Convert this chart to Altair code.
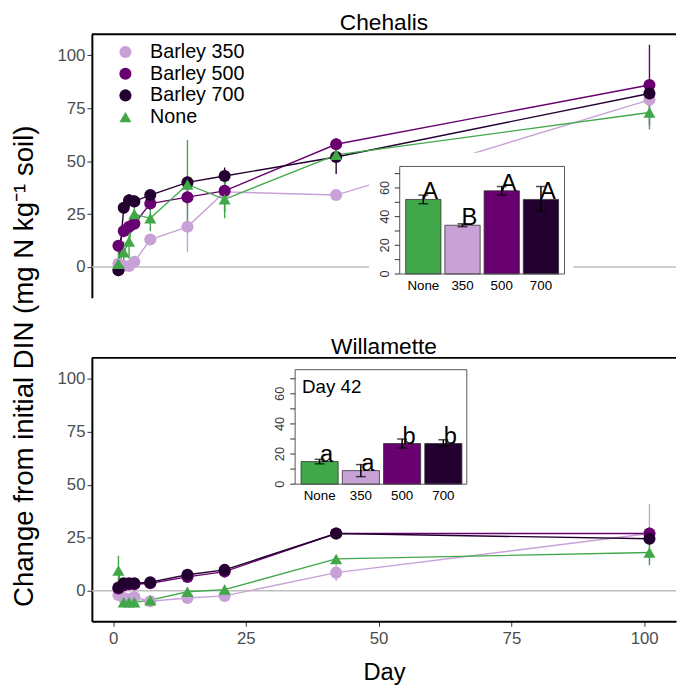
import altair as alt
import pandas as pd

# ---------------- data ----------------
days = [1, 2, 3, 4, 7, 14, 21, 42, 101]
treatments = ["Barley 350", "Barley 500", "Barley 700", "None"]
colors = ["#C8A2D6", "#680070", "#230030", "#41A84A"]
shapes = ["circle", "circle", "circle", "triangle-up"]
point_sizes = [150, 150, 150, 260]

# Chehalis (mean, half-width of error bar)
ch_350 = [1.5, 0.5, 0.5, 2.5, 13, 19, 35.5, 34, 79]
ch_350_err = [1, 1, 1, 1.5, 2, 12, 3, 1, 3]
ch_500 = [10, 17, 19, 20.5, 30, 33, 36, 58, 86]
ch_500_err = [2, 3, 3, 3, 3, 4, 10, 3, 19]
ch_700 = [-1.5, 28, 31.5, 31, 34, 40, 43, 52, 82]
ch_700_err = [2, 3, 3, 3, 2, 3, 4, 8, 4]
ch_none = [1.5, 7, 12, 25, 23, 39, 32, 53, 73]
ch_none_err = [6, 5, 8, 6, 6, 21, 9, 3, 8]

# Willamette
wi_350 = [-2, -3.5, -4, -3, -5, -3.5, -2.5, 8.5, 27]
wi_350_err = [1, 1, 1, 1, 1, 2, 2, 4, 14]
wi_500 = [1, 2.5, 3, 3, 3.5, 6.5, 9, 27, 27]
wi_500_err = [1, 1, 1, 1, 1, 1.5, 1.5, 2, 3]
wi_700 = [1.5, 3.5, 3.5, 3.5, 4, 7.5, 9.8, 27, 24.5]
wi_700_err = [1, 1, 1, 1, 1, 1.5, 1.5, 2, 2]
wi_none = [9.5, -5.5, -5.5, -5.5, -4.5, -0.5, 0.5, 15, 18]
wi_none_err = [7, 2, 2, 2, 2, 2, 2, 1.5, 6]

# insets (day 42)
inset_labels = ["None", "350", "500", "700"]
inset_treat = ["None", "Barley 350", "Barley 500", "Barley 700"]
inset_ticks = [0, 10, 20, 30, 40, 50, 60, 70]
inset_tick_labels = [0, 20, 40, 60]
ch_bar = [52, 34, 58, 52]
ch_bar_lo = [49, 33, 55, 44]
ch_bar_hi = [55, 35, 61, 61]
ch_letters = ["A", "B", "A", "A"]
wi_bar = [15, 9, 27, 27]
wi_bar_lo = [13.5, 5, 24, 25]
wi_bar_hi = [16.5, 13, 30, 29.5]
wi_letters = ["a", "a", "b", "b"]

# ---------------- frames ----------------
def series_df(vals):
    rows = []
    for t, (m, e) in zip(treatments, vals):
        for d, v, er in zip(days, m, e):
            rows.append({"treat": t, "day": d, "value": v, "lo": v - er, "hi": v + er})
    return pd.DataFrame(rows)

ch_df = series_df([(ch_350, ch_350_err), (ch_500, ch_500_err), (ch_700, ch_700_err), (ch_none, ch_none_err)])
wi_df = series_df([(wi_350, wi_350_err), (wi_500, wi_500_err), (wi_700, wi_700_err), (wi_none, wi_none_err)])

def inset_df(means, lo, hi, letters):
    return pd.DataFrame({"label": inset_labels, "treat": inset_treat, "mean": means,
                         "lo": lo, "hi": hi, "letter": letters})

ch_in = inset_df(ch_bar, ch_bar_lo, ch_bar_hi, ch_letters)
wi_in = inset_df(wi_bar, wi_bar_lo, wi_bar_hi, wi_letters)
ticks_df = pd.DataFrame({"v": inset_ticks})
tlab_df = pd.DataFrame({"v": inset_tick_labels})

# ---------------- layout constants ----------------
W, H = 592, 267
XDOM = [-4, 106]
YDOM = [-14.5, 110]
FONT = "Liberation Sans"
one = pd.DataFrame({"k": [0]})

TOP_INSET = dict(fx=(312, 479), fy=(134, 243), bx=(318, 473), ymax=75, bgx=(281, 488), bgy=(120, 265), day=False)
BOT_INSET = dict(fx=(206, 380), fy=(12, 128), bx=(212, 375), ymax=76, bgx=(180, 392), bgy=(4, 150), day=True)

color_scale = alt.Scale(domain=treatments, range=colors)
shape_scale = alt.Scale(domain=treatments, range=shapes)


def panel(df, ins, geo, top):
    xs = alt.Scale(domain=XDOM, nice=False, zero=False)
    ys = alt.Scale(domain=YDOM, nice=False, zero=False)
    if top:
        xaxis = None
        yaxis = alt.Axis(values=[0, 25, 50, 75, 100], grid=False, tickSize=5, labelFontSize=17,
                         title="Change from initial DIN (mg N kg\u207B\u00B9 soil)", titleFontSize=28,
                         titleFontWeight="normal", titleX=-68, titleY=336, titleAngle=270,
                         titleAlign="center", titleBaseline="middle", domainWidth=2, domainColor="black")
        leg = alt.Legend(orient="none", legendX=24, legendY=8, title=None, labelFontSize=20,
                         symbolSize=230, rowPadding=2, labelOffset=15, padding=0,
                         symbolStrokeWidth=0, labelColor="black")
    else:
        xaxis = alt.Axis(values=[0, 25, 50, 75, 100], grid=False, tickSize=5, labelFontSize=17,
                         title="Day", titleFontSize=24, titleFontWeight="normal", titlePadding=15,
                         domainWidth=2, domainColor="black", labelPadding=4)
        yaxis = alt.Axis(values=[0, 25, 50, 75, 100], grid=False, tickSize=5, labelFontSize=17,
                         title=None, domainWidth=2, domainColor="black")
        leg = None

    X = alt.X("day:Q", scale=xs, axis=xaxis)
    Y = alt.Y("value:Q", scale=ys, axis=yaxis)
    C = alt.Color("treat:N", scale=color_scale, legend=leg)
    S = alt.Shape("treat:N", scale=shape_scale, legend=leg)

    zero = alt.Chart(one).mark_rule(color="#BEBEBE", strokeWidth=1.5).encode(
        y=alt.Y(datum=0, scale=ys, axis=yaxis))
    lines = alt.Chart(df).mark_line(strokeWidth=1.4).encode(x=X, y=Y, color=C, detail="treat:N")
    errs = alt.Chart(df).mark_rule(strokeWidth=1.4).encode(
        x=X, y=alt.Y("lo:Q", scale=ys, axis=yaxis), y2="hi:Q", color=C)
    pts = alt.Chart(df).mark_point(filled=True, opacity=1).encode(
        x=X, y=Y, color=C, shape=S,
        size=alt.Size("treat:N", scale=alt.Scale(domain=treatments, range=point_sizes), legend=None))
    topline = alt.Chart(one).mark_rule(color="black", strokeWidth=2).encode(y=alt.value(0))
    main = alt.layer(zero, lines, errs, pts, topline)

    # ---- inset ----
    fx0, fx1 = geo["fx"]
    fy0, fy1 = geo["fy"]
    ys_i = alt.Scale(domain=[0, geo["ymax"]], range=[fy1, fy0], nice=False, zero=False)
    xs_i = alt.Scale(domain=inset_labels, range=list(geo["bx"]), paddingInner=0.1, paddingOuter=0)
    XIn = alt.X("label:N", sort=inset_labels, scale=xs_i, axis=None)
    bg = alt.Chart(one).mark_rect(color="white").encode(
        x=alt.value(geo["bgx"][0]), x2=alt.value(geo["bgx"][1]),
        y=alt.value(geo["bgy"][0]), y2=alt.value(geo["bgy"][1]))
    bars = alt.Chart(ins).mark_bar(stroke="#333", strokeWidth=0.8).encode(
        x=XIn, y=alt.Y("mean:Q", scale=ys_i, axis=None), y2=alt.datum(0), color=C)
    ebar = alt.Chart(ins).mark_rule(color="black", strokeWidth=1.5).encode(
        x=XIn, y=alt.Y("lo:Q", scale=ys_i, axis=None), y2="hi:Q")
    cap_lo = alt.Chart(ins).mark_tick(color="black", size=10, thickness=1.5).encode(
        x=XIn, y=alt.Y("lo:Q", scale=ys_i, axis=None))
    cap_hi = alt.Chart(ins).mark_tick(color="black", size=10, thickness=1.5).encode(
        x=XIn, y=alt.Y("hi:Q", scale=ys_i, axis=None))
    letters = alt.Chart(ins).mark_text(fontSize=24, align="center", baseline="alphabetic", dx=7,
                                       color="black").encode(
        x=XIn, y=alt.Y("mean:Q", scale=ys_i, axis=None), text="letter:N")
    frame = alt.Chart(one).mark_rect(fillOpacity=0, stroke="#555", strokeWidth=1).encode(
        x=alt.value(fx0), x2=alt.value(fx1), y=alt.value(fy0), y2=alt.value(fy1))
    xlabels = alt.Chart(ins).mark_text(fontSize=13.5, baseline="top", align="center", color="black").encode(
        x=XIn, y=alt.value(fy1 + 5), text="label:N")
    yticks = alt.Chart(ticks_df).mark_rule(color="#333", strokeWidth=1).encode(
        y=alt.Y("v:Q", scale=ys_i, axis=None), x=alt.value(fx0 - 5), x2=alt.value(fx0))
    ylabels = alt.Chart(tlab_df).mark_text(fontSize=13, angle=270, align="center", baseline="bottom",
                                           color="#333").encode(
        y=alt.Y("v:Q", scale=ys_i, axis=None), x=alt.value(fx0 - 8), text="v:Q")
    parts = [bg, bars, ebar, cap_lo, cap_hi, letters, frame, xlabels, yticks, ylabels]
    if geo["day"]:
        parts.append(alt.Chart(one).mark_text(text="Day 42", fontSize=19, align="left", baseline="middle",
                                              color="black").encode(
            x=alt.value(fx0 + 7), y=alt.value(fy0 + 18)))
    inset = alt.layer(*parts)

    return alt.layer(main, inset).resolve_scale(x="independent", y="independent").properties(
        width=W, height=H)


title_kw = dict(fontSize=23, fontWeight="normal", offset=-2, anchor="middle")
top = panel(ch_df, ch_in, TOP_INSET, True).properties(title=alt.TitleParams("Chehalis", **title_kw))
bot = panel(wi_df, wi_in, BOT_INSET, False).properties(title=alt.TitleParams("Willamette", **title_kw))

chart = alt.vconcat(top, bot, spacing=61, bounds="flush").resolve_legend(
    color="independent", shape="independent", size="independent").properties(
    padding={"top": 0, "left": 2, "right": 0, "bottom": 0}).configure(
    font=FONT).configure_view(stroke=None).configure_axis(
    labelColor="#4D4D4D", tickColor="#333333", labelFont=FONT, titleFont=FONT, titleColor="black"
).configure_legend(labelFont=FONT).configure_title(font=FONT, color="black")

chart.save("out.html", embed_options={"renderer": "svg", "actions": False})
